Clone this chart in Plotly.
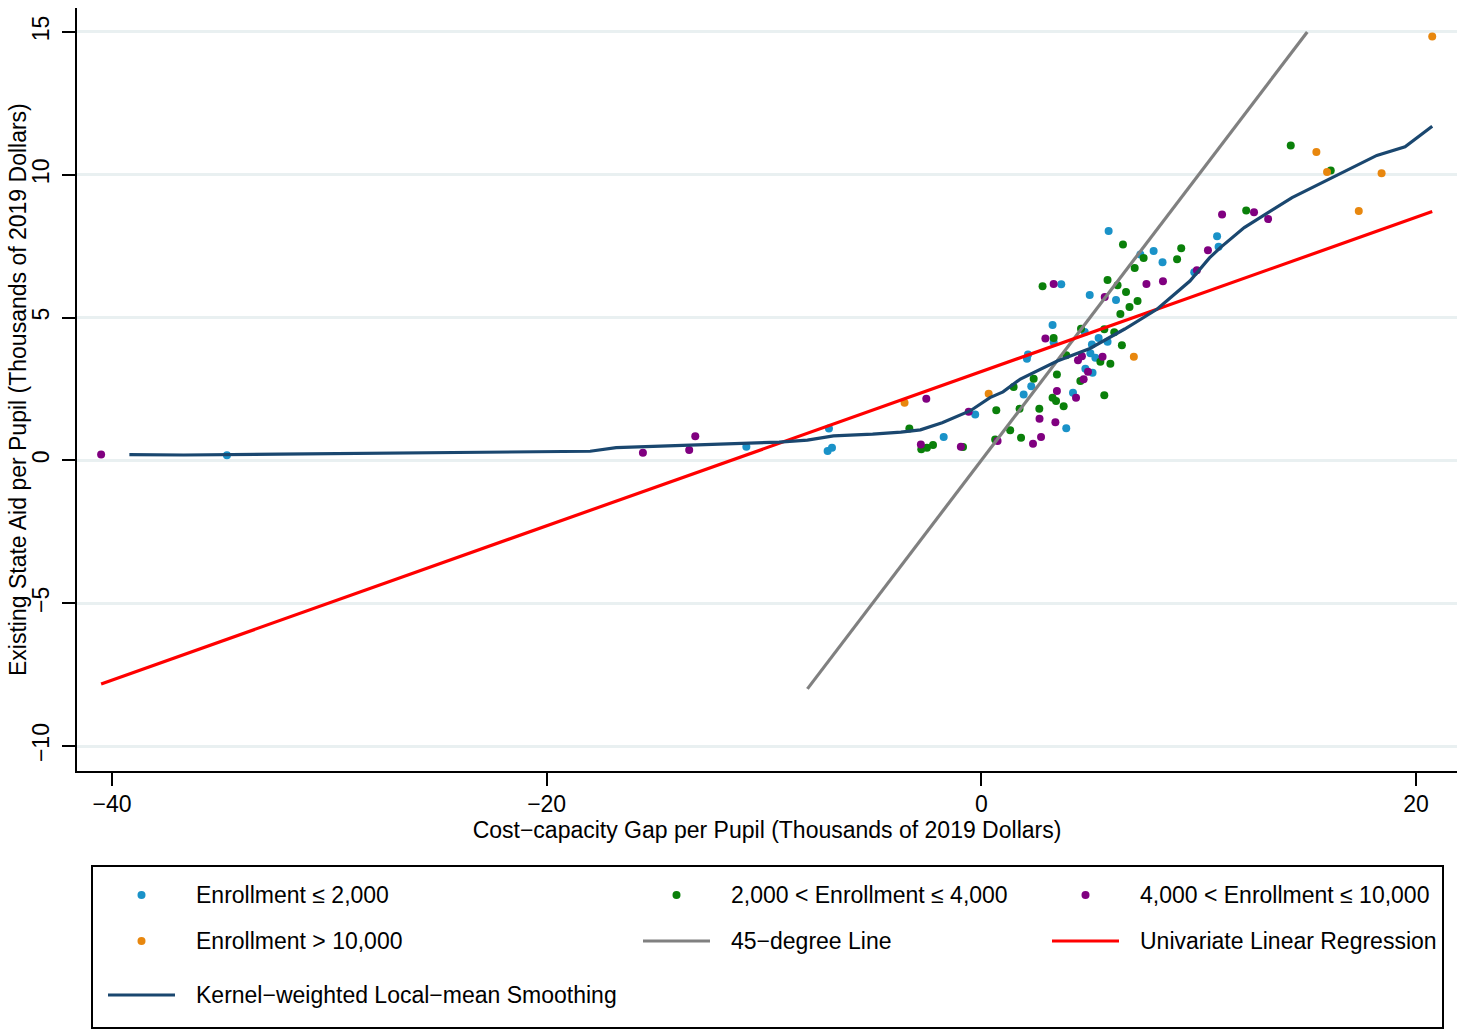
import plotly.graph_objects as go

# ---------------- data ----------------
blue_x = [-34.71, -10.81, -7.01, -7.07, -6.87, -1.73, -0.28, 1.95, 2.30, 2.10, 2.15, 3.28, 3.33,
          3.68, 3.91, 4.22, 4.76, 4.79, 5.12, 5.02, 5.25, 5.09, 5.40, 5.81, 4.99, 5.86, 6.20,
          7.32, 7.93, 8.34, 9.80, 10.85, 10.92]
blue_y = [0.18, 0.48, 1.12, 0.33, 0.44, 0.82, 1.61, 2.31, 2.60, 3.56, 3.71, 4.74, 4.14,
          6.17, 1.13, 2.37, 4.50, 3.21, 3.07, 3.75, 3.59, 4.06, 4.29, 4.15, 5.79, 8.03, 5.62,
          7.21, 7.33, 6.94, 6.59, 7.85, 7.48]

green_x = [-3.31, -2.76, -2.50, -2.22, -0.84, 0.64, 0.69, 1.33, 1.49, 1.76, 1.83, 2.41, 2.67,
           2.82, 3.33, 3.28, 3.44, 3.48, 3.79, 3.91, 4.56, 4.59, 5.48, 5.94, 5.66, 5.66, 6.12,
           6.47, 5.81, 6.27, 6.40, 6.66, 6.82, 7.19, 6.52, 7.06, 7.47, 9.01, 9.20, 12.19,
           14.24, 16.08]
green_y = [1.12, 0.39, 0.44, 0.54, 0.47, 0.73, 1.76, 1.06, 2.57, 1.81, 0.79, 2.86, 1.81,
           6.10, 4.29, 2.19, 2.08, 3.01, 1.90, 3.68, 2.78, 4.61, 3.45, 3.38, 2.28, 4.59, 4.49,
           4.03, 6.32, 6.13, 5.13, 5.90, 5.37, 5.58, 7.56, 6.74, 7.09, 7.04, 7.43, 8.75,
           11.03, 10.15]

purple_x = [-40.5, -15.57, -13.44, -13.16, -2.78, -2.53, -0.94, -0.58, 0.75, 2.38, 2.68, 2.75,
            2.95, 3.33, 3.41, 3.48, 4.36, 4.45, 4.63, 4.71, 4.91, 5.58, 5.68, 7.60, 8.36, 9.92,
            10.43, 11.08, 12.55, 13.20]
purple_y = [0.21, 0.27, 0.36, 0.85, 0.56, 2.16, 0.48, 1.70, 0.68, 0.58, 1.46, 0.82,
            4.27, 6.18, 1.34, 2.43, 2.19, 3.51, 3.65, 2.84, 3.10, 3.63, 5.72, 6.18, 6.27, 6.66,
            7.36, 8.61, 8.69, 8.45]

orange_x = [-3.53, 0.34, 7.02, 15.42, 15.91, 17.37, 18.42, 20.75]
orange_y = [2.02, 2.33, 3.63, 10.80, 10.10, 8.73, 10.05, 14.84]

reg_intercept = 3.11
reg_slope = 0.27

line45_x = [-8, 15]

kern_x = [-39.2, -36.7, -32.3, -25.0, -18.0, -16.8, -12.9, -9.3, -8.0, -6.8, -5.0, -3.7, -2.8,
          -1.8, -0.5, 0.4, 1.0, 1.8, 3.5, 5.0, 6.6, 8.1, 9.6, 10.5, 11.0, 12.1, 14.3, 17.0,
          18.2, 19.5, 20.75]
kern_y = [0.20, 0.19, 0.22, 0.27, 0.32, 0.45, 0.56, 0.64, 0.71, 0.86, 0.92, 0.99, 1.07,
          1.32, 1.74, 2.20, 2.40, 2.85, 3.48, 3.92, 4.60, 5.30, 6.28, 7.09, 7.45, 8.15, 9.20,
          10.24, 10.68, 10.98, 11.70]

x_ticks = [-40, -20, 0, 20]
y_ticks = [-10, -5, 0, 5, 10, 15]

x_title = "Cost−capacity Gap per Pupil (Thousands of 2019 Dollars)"
y_title = "Existing State Aid per Pupil (Thousands of 2019 Dollars)"
labels = ["Enrollment ≤ 2,000", "2,000 < Enrollment ≤ 4,000", "4,000 < Enrollment ≤ 10,000",
          "Enrollment > 10,000", "45−degree Line", "Univariate Linear Regression",
          "Kernel−weighted Local−mean Smoothing"]

# ---------------- styles ----------------
C_BLUE = "#1a92c8"
C_GREEN = "#0a800a"
C_PURPLE = "#800080"
C_ORANGE = "#e8870e"
C_GRAY = "#808080"
C_RED = "#ff0000"
C_NAVY = "#1a476f"
FONT = "Liberation Sans, Arial, sans-serif"
FS = 23

W, H = 1463, 1030
ML, MR, MT, MB = 77, 6, 8, 259
PW, PH = W - ML - MR, H - MT - MB


def px(x):
    return (x - ML) / PW


def py(y):
    return (MT + PH - y) / PH


fig = go.Figure()
for xs, ys, c in [(blue_x, blue_y, C_BLUE), (green_x, green_y, C_GREEN),
                  (purple_x, purple_y, C_PURPLE), (orange_x, orange_y, C_ORANGE)]:
    fig.add_trace(go.Scatter(x=xs, y=ys, mode="markers", showlegend=False,
                             marker=dict(color=c, size=8, line=dict(width=0))))

fig.add_trace(go.Scatter(x=line45_x, y=line45_x, mode="lines", showlegend=False,
                         line=dict(color=C_GRAY, width=3.2)))
all_x = blue_x + green_x + purple_x + orange_x
rx = [min(all_x), max(all_x)]
fig.add_trace(go.Scatter(x=rx, y=[reg_intercept + reg_slope * v for v in rx], mode="lines",
                         showlegend=False, line=dict(color=C_RED, width=3.2)))
fig.add_trace(go.Scatter(x=kern_x, y=kern_y, mode="lines", showlegend=False,
                         line=dict(color=C_NAVY, width=3.2)))

# ---------------- manual legend ----------------
shapes = [dict(type="rect", xref="paper", yref="paper", x0=px(92), x1=px(1443),
               y0=py(1028), y1=py(866), line=dict(color="black", width=2))]
annotations = [dict(text=y_title, xref="paper", yref="paper", x=px(18), y=py(390),
                    xanchor="center", yanchor="middle", textangle=-90, showarrow=False,
                    font=dict(family=FONT, size=FS, color="black"))]
col_sample = [141.5, 676.5, 1085.5]
col_text = [194, 729, 1138]
row_y = [895, 941, 995]
items = [("m", C_BLUE), ("m", C_GREEN), ("m", C_PURPLE),
         ("m", C_ORANGE), ("l", C_GRAY), ("l", C_RED), ("l", C_NAVY)]
for i, (lab, (kind, col)) in enumerate(zip(labels, items)):
    r, c = divmod(i, 3)
    cx, cy = col_sample[c], row_y[r]
    if kind == "m":
        shapes.append(dict(type="circle", xref="paper", yref="paper",
                           xsizemode="pixel", ysizemode="pixel",
                           xanchor=px(cx), yanchor=py(cy), x0=-4, x1=4, y0=-4, y1=4,
                           fillcolor=col, line=dict(width=0)))
    else:
        shapes.append(dict(type="line", xref="paper", yref="paper",
                           x0=px(cx - 33.5), x1=px(cx + 33.5), y0=py(cy), y1=py(cy),
                           line=dict(color=col, width=3)))
    annotations.append(dict(text=lab, xref="paper", yref="paper", x=px(col_text[c]),
                            y=py(cy), xanchor="left", yanchor="middle", showarrow=False,
                            font=dict(family=FONT, size=FS, color="black")))

fig.update_layout(
    width=W, height=H,
    margin=dict(l=ML, r=MR, t=MT, b=MB, pad=0),
    paper_bgcolor="white", plot_bgcolor="white",
    font=dict(family=FONT, size=FS, color="black"),
    shapes=shapes, annotations=annotations,
    showlegend=False,
    xaxis=dict(range=[-41.61, 21.89], tickvals=x_ticks, showgrid=False, zeroline=False,
               showline=True, linecolor="black", linewidth=2, ticks="outside", ticklen=13,
               tickwidth=2, tickcolor="black", ticklabelstandoff=-2,
               tickfont=dict(family=FONT, size=FS),
               title=dict(text=x_title, font=dict(family=FONT, size=FS), standoff=6)),
    yaxis=dict(range=[-10.875, 15.84], tickvals=y_ticks, showgrid=True, gridcolor="#e9f0f1",
               gridwidth=3, zeroline=False, showline=True, linecolor="black", linewidth=2,
               ticks="outside", ticklen=13, tickwidth=2, tickcolor="black", tickangle=-90,
               ticklabelstandoff=4, tickfont=dict(family=FONT, size=FS)),
)

fig.write_html("out.html", config={"displayModeBar": False},
               post_script="document.body.style.margin='0';document.body.style.overflow='hidden';")
